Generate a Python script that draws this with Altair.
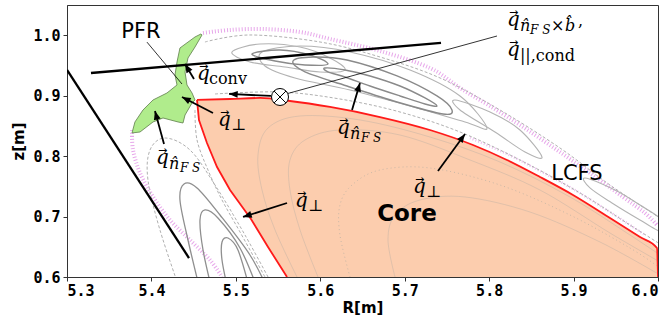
import math
import altair as alt
import pandas as pd

# ---------------- axes ----------------
R_DOMAIN = [5.3, 6.0]
Z_DOMAIN = [0.6, 1.05]
R_TICKS = [5.3, 5.4, 5.5, 5.6, 5.7, 5.8, 5.9, 6.0]
Z_TICKS = [0.6, 0.7, 0.8, 0.9, 1.0]
W, H = 591, 272

# ---------------- geometry (R [m], z [m]) ----------------
lcfs_left = [(5.5606, 0.6), (5.5381, 0.6496), (5.5179, 0.6960), (5.5085, 0.7142),
             (5.4931, 0.7439), (5.4777, 0.7820), (5.4658, 0.8217), (5.4563, 0.8598),
             (5.4540, 0.8929)]
lcfs_top = [(5.4540, 0.8929), (5.4931, 0.8945), (5.5286, 0.8962), (5.5641, 0.8912),
            (5.6115, 0.8813), (5.6707, 0.8647), (5.7299, 0.8432), (5.7809, 0.8184),
            (5.8211, 0.7936), (5.8602, 0.7655), (5.8993, 0.7357), (5.9431, 0.6976),
            (5.9787, 0.6662), (5.9988, 0.6480), (6.0, 0.6)]

pfr = [(5.4587, 1.0021), (5.4516, 0.9971), (5.4338, 0.9789), (5.4303, 0.9557),
       (5.4279, 0.9342), (5.4303, 0.9177), (5.4184, 0.9044), (5.4019, 0.8929),
       (5.3900, 0.8763), (5.3805, 0.8565), (5.3770, 0.8383), (5.3865, 0.8399),
       (5.4019, 0.8565), (5.4137, 0.8631), (5.4315, 0.8565), (5.4374, 0.8548),
       (5.4398, 0.8680), (5.4481, 0.8879), (5.4516, 0.8929), (5.4481, 0.9044),
       (5.4421, 0.9177), (5.4398, 0.9392), (5.4433, 0.9623), (5.4516, 0.9805),
       (5.4599, 1.0004)]

wall_upper = [(5.3284, 0.9375), (5.7430, 0.9872)]
wall_lower = [(5.3, 0.9425), (5.4445, 0.6314)]
pfr_pointer = [(5.3947, 0.9886), (5.4362, 0.9193)]
otimes_pointer = [(5.5594, 0.9028), (5.8093, 0.9987)]
otimes_at = [(5.5523, 0.8978)]

islands_dark = {
    "A": [(5.6056, 0.9458), (5.6293, 0.9425), (5.6589, 0.9326), (5.6944, 0.9160),
          (5.7240, 0.8962), (5.7382, 0.8829), (5.7240, 0.8862), (5.6944, 0.8995),
          (5.6589, 0.9160), (5.6293, 0.9309), (5.6091, 0.9392)],
    "B": [(5.5677, 0.9574), (5.5914, 0.9640), (5.6316, 0.9590), (5.6909, 0.9326),
          (5.7382, 0.8995), (5.7560, 0.8763), (5.7453, 0.8697), (5.6909, 0.8895),
          (5.6316, 0.9160), (5.5819, 0.9392)],
    "D2": [(5.5191, 0.9690), (5.5523, 0.9756), (5.5878, 0.9673), (5.6091, 0.9524),
           (5.5819, 0.9508), (5.5464, 0.9574)],
}
islands_light = {
    "C": [(5.5310, 0.9723), (5.5760, 0.9822), (5.6352, 0.9723), (5.7063, 0.9425),
          (5.7655, 0.8995), (5.7974, 0.8465), (5.7714, 0.8565), (5.7063, 0.8829),
          (5.6352, 0.9094), (5.5700, 0.9293), (5.5345, 0.9491)],
    "D": [(5.4954, 0.9723), (5.5286, 0.9855), (5.5760, 0.9805), (5.6115, 0.9623),
          (5.6293, 0.9425), (5.5997, 0.9392), (5.5582, 0.9475), (5.5167, 0.9557)],
    "E": [(5.7596, 0.8929), (5.8010, 0.8730), (5.8365, 0.8432), (5.8626, 0.7985),
          (5.8425, 0.8068), (5.8069, 0.8399), (5.7655, 0.8763)],
    "F": [(5.9135, 0.7638), (5.9490, 0.7439), (5.9787, 0.7191), (6.0047, 0.6943),
          (6.0047, 0.6745), (5.9787, 0.6943), (5.9455, 0.7224), (5.9194, 0.7473)],
}
lower_chain = {
    "U1": [(5.4575, 0.5785), (5.4433, 0.6612), (5.4338, 0.7274), (5.4386, 0.7539),
           (5.4540, 0.7473), (5.4812, 0.7026), (5.5167, 0.6364), (5.5381, 0.5785)],
    "U2": [(5.4717, 0.5785), (5.4611, 0.6447), (5.4575, 0.6943), (5.4634, 0.7109),
           (5.4788, 0.6976), (5.5049, 0.6480), (5.5262, 0.5785)],
    "U3": [(5.4907, 0.5785), (5.4836, 0.6281), (5.4836, 0.6579), (5.4907, 0.6645),
           (5.5025, 0.6447), (5.5167, 0.5785)],
}
dashed_surfaces = {
    "U0": [(5.4338, 0.5785), (5.4101, 0.6778), (5.3959, 0.7605), (5.3983, 0.8101),
           (5.4161, 0.8300), (5.4457, 0.8101), (5.4753, 0.7522), (5.5108, 0.6695),
           (5.5464, 0.5785)],
    "G1": [(5.4634, 0.9888), (5.5167, 1.0004), (5.5997, 0.9888), (5.6707, 0.9640),
           (5.7418, 0.9293), (5.8128, 0.8763), (5.8839, 0.8134), (5.9431, 0.7522),
           (6.0024, 0.6976)],
    "G2": [(5.4753, 0.9028), (5.5523, 0.9061), (5.6233, 0.8945), (5.6944, 0.8730),
           (5.7655, 0.8399), (5.8365, 0.7936), (5.9076, 0.7390), (5.9668, 0.6860),
           (6.0024, 0.6546)],
    "G4": [(5.4516, 0.8763), (5.4540, 0.8267), (5.4670, 0.7770), (5.4836, 0.7274),
           (5.5049, 0.6745), (5.5345, 0.6)],
}
core_surfaces = {
    "K1": [(5.5724, 0.6), (5.5464, 0.6778), (5.5310, 0.7439), (5.5262, 0.8018),
           (5.5381, 0.8465), (5.5760, 0.8664), (5.6470, 0.8598), (5.7299, 0.8316),
           (5.8128, 0.7903), (5.8957, 0.7324), (5.9668, 0.6695), (6.0024, 0.6364)],
    "K2": [(5.5973, 0.6), (5.5760, 0.6778), (5.5641, 0.7439), (5.5641, 0.7936),
           (5.5819, 0.8267), (5.6233, 0.8432), (5.6944, 0.8349), (5.7773, 0.7936),
           (5.8602, 0.7439), (5.9431, 0.6728), (6.0024, 0.6248)],
    "K4": [(5.6885, 0.6), (5.6802, 0.6612), (5.6885, 0.7026), (5.7181, 0.7274),
           (5.7714, 0.7324), (5.8484, 0.7075), (5.9313, 0.6579), (6.0024, 0.6033)],
}
core_dotted = {
    "K3": [(5.6352, 0.6), (5.6233, 0.6695), (5.6233, 0.7191), (5.6376, 0.7522),
           (5.6707, 0.7770), (5.7299, 0.7803), (5.8128, 0.7522), (5.8957, 0.7026),
           (5.9668, 0.6480), (6.0024, 0.6149)],
}
magenta_bands = {
    "M1": [(5.4611, 1.0037), (5.4931, 1.0087), (5.5321, 1.0103), (5.5760, 1.0054),
           (5.6115, 0.9938), (5.6707, 0.9739), (5.7299, 0.9458), (5.7655, 0.9127),
           (5.8010, 0.8829), (5.8401, 0.8482), (5.8804, 0.8101), (5.9194, 0.7721),
           (5.9585, 0.7324), (5.9846, 0.7059), (5.9988, 0.6860)],
    "M2": [(5.3770, 0.8432), (5.3782, 0.8101), (5.3865, 0.7721), (5.4019, 0.7324),
           (5.4220, 0.6943), (5.4457, 0.6612), (5.4694, 0.6281), (5.4836, 0.6)],
}
magenta_inner = {
    "M3": [(5.7773, 0.8300), (5.8211, 0.8035), (5.8602, 0.7754), (5.8993, 0.7456),
           (5.9431, 0.7075), (5.9846, 0.6695)],
}

# arrows: tail -> tip
arrow_tail = [(5.4504, 0.9276), (5.5416, 0.8995), (5.4729, 0.8713), (5.4149, 0.8201),
              (5.6376, 0.8763), (5.7394, 0.7754), (5.5606, 0.7224)]
arrow_tip = [(5.4398, 0.9524), (5.4919, 0.9028), (5.4362, 0.8978), (5.4042, 0.8746),
             (5.6470, 0.9210), (5.7714, 0.8366), (5.5085, 0.6993)]

# text pieces (text, R, z)
vector_q = [(5.4540, 0.9259), (5.4788, 0.8498), (5.4054, 0.7870), (5.6198, 0.8366),
            (5.5700, 0.7158), (5.7098, 0.7390), (5.8211, 1.0153), (5.8211, 0.9656)]
sub_upright = [("conv", 5.4682, 0.9193), ("⊥", 5.4942, 0.8432), ("⊥", 5.5854, 0.7092),
               ("⊥", 5.7252, 0.7324), ("×", 5.8732, 1.0070), ("||,cond", 5.8365, 0.9574),
               (",", 5.9052, 1.0153)]
sub_italic = [("n̂", 5.4208, 0.7787), ("n̂", 5.6352, 0.8283), ("n̂", 5.8365, 1.0070),
              ("b̂", 5.8898, 1.0070)]
sub_sub = [("F S", 5.4338, 0.7737), ("F S", 5.6482, 0.8234), ("F S", 5.8484, 1.0020)]
plain_labels = [("PFR", 5.3876, 1.0054), ("LCFS", 5.9040, 0.7704)]
bold_labels = [("Core", 5.7027, 0.7042)]

# ---------------- helpers ----------------
axis_common = dict(grid=False, labelFont="DejaVu Sans Mono", labelFontWeight="bold",
                   labelFontSize=15, labelColor="black", tickColor="#333",
                   domainColor="#333", tickSize=4, titleFont="DejaVu Sans",
                   titleFontWeight="bold", titleFontSize=15, titleColor="black")
X = alt.X("R:Q", scale=alt.Scale(domain=R_DOMAIN, nice=False, zero=False),
          axis=alt.Axis(values=R_TICKS, format=".1f", title="R[m]", labelPadding=2,
                        titlePadding=2, **axis_common))
Y = alt.Y("z:Q", scale=alt.Scale(domain=Z_DOMAIN, nice=False, zero=False),
          axis=alt.Axis(values=Z_TICKS, format=".1f", title="z[m]", labelPadding=3,
                        titlePadding=6, **axis_common))


def frame(curves):
    rows = []
    for name, pts in curves.items():
        for i, (r, z) in enumerate(pts):
            rows.append({"curve": name, "i": i, "R": r, "z": z})
    return pd.DataFrame(rows)


def paths(curves, **mark):
    return alt.Chart(frame(curves)).mark_line(clip=True, **mark).encode(
        x=X, y=Y, order="i:Q", detail="curve:N")


def texts(items, **mark):
    df = pd.DataFrame(items, columns=["t", "R", "z"])
    return alt.Chart(df).mark_text(**mark).encode(x=X, y=Y, text="t:N")


core_poly = lcfs_left + lcfs_top[1:]
layers = []
layers.append(paths({"core": core_poly}, fill="#fccdae", strokeOpacity=0))
layers.append(paths(core_surfaces, color="#b7aca3", strokeWidth=0.8, opacity=0.5,
                    interpolate="cardinal"))
layers.append(paths(core_dotted, color="#a9a9a0", strokeWidth=1.0, opacity=0.6,
                    strokeDash=[1, 3], interpolate="cardinal"))
layers.append(paths(magenta_bands, color="#d35fd8", strokeWidth=4, opacity=0.55,
                    strokeDash=[1, 2], interpolate="cardinal"))
layers.append(paths(magenta_inner, color="#d35fd8", strokeWidth=2.5, opacity=0.4,
                    strokeDash=[1, 2], interpolate="cardinal"))
layers.append(paths(dashed_surfaces, color="#b0b0b0", strokeWidth=1, strokeDash=[3, 2],
                    interpolate="cardinal"))
layers.append(paths(islands_light, color="#b3b3b3", strokeWidth=1.1,
                    interpolate="cardinal-closed"))
layers.append(paths(islands_dark, color="#8a8a8a", strokeWidth=1.4,
                    interpolate="cardinal-closed"))
layers.append(paths(lower_chain, color="#8f8f8f", strokeWidth=1.3, interpolate="cardinal"))
layers.append(paths({"pfr": pfr + pfr[:1]}, fill="#b0ec8c", color="#5e7d4a",
                    strokeWidth=0.8))
layers.append(paths({"left": lcfs_left}, color="#ff1a1a", strokeWidth=1.8))
layers.append(paths({"top": lcfs_top}, color="#ff1a1a", strokeWidth=1.8,
                    interpolate="monotone"))
layers.append(paths({"w1": wall_upper, "w2": wall_lower}, color="black", strokeWidth=2.3))
layers.append(paths({"p1": pfr_pointer, "p2": otimes_pointer}, color="black",
                    strokeWidth=0.8))

# arrows
PXR = W / (R_DOMAIN[1] - R_DOMAIN[0])
PXZ = H / (Z_DOMAIN[1] - Z_DOMAIN[0])
arr = pd.DataFrame({
    "R": [t[0] for t in arrow_tail], "z": [t[1] for t in arrow_tail],
    "R2": [t[0] for t in arrow_tip], "z2": [t[1] for t in arrow_tip],
})
arr["ang"] = [math.degrees(math.atan2((b[0] - a[0]) * PXR, (b[1] - a[1]) * PXZ)) % 360
              for a, b in zip(arrow_tail, arrow_tip)]
layers.append(alt.Chart(arr).mark_rule(color="black", strokeWidth=1.8).encode(
    x=X, y=Y, x2="R2:Q", y2="z2:Q"))
heads = arr[["R2", "z2", "ang"]].rename(columns={"R2": "R", "z2": "z"})
layers.append(alt.Chart(heads).mark_point(
    shape="M0,0L0.4,1L-0.4,1Z", filled=True, color="black", opacity=1, size=300).encode(
    x=X, y=Y, angle=alt.Angle("ang:Q", scale=None)))

# otimes
ot = pd.DataFrame(otimes_at, columns=["R", "z"])
layers.append(alt.Chart(ot).mark_point(shape="circle", size=289, fill="white",
                                       filled=False, stroke="black", strokeWidth=1,
                                       opacity=1).encode(x=X, y=Y))
layers.append(alt.Chart(ot).mark_point(shape="M-0.7,-0.7L0.7,0.7M-0.7,0.7L0.7,-0.7",
                                       size=289, stroke="black", strokeWidth=1,
                                       opacity=1).encode(x=X, y=Y))

# math labels
qdf = [("q", r, z) for r, z in vector_q]
layers.append(texts(qdf, font="DejaVu Serif", fontStyle="italic", fontSize=20,
                    align="left", baseline="alphabetic", color="black"))
layers.append(texts([("→", r, z) for r, z in vector_q], font="DejaVu Sans", fontSize=11,
                    align="left", baseline="alphabetic", dx=2, dy=-10, color="black"))
layers.append(texts(sub_upright, font="DejaVu Serif", fontSize=16, align="left",
                    baseline="alphabetic", color="black"))
layers.append(texts(sub_italic, font="DejaVu Serif", fontStyle="italic", fontSize=16,
                    align="left", baseline="alphabetic", color="black"))
layers.append(texts(sub_sub, font="DejaVu Serif", fontStyle="italic", fontSize=12,
                    align="left", baseline="alphabetic", color="black"))
layers.append(texts(plain_labels, font="DejaVu Sans", fontSize=21, align="center",
                    baseline="middle", color="black"))
layers.append(texts(bold_labels, font="DejaVu Sans", fontWeight="bold", fontSize=23,
                    align="center", baseline="middle", color="black"))

chart = alt.layer(*layers).properties(
    width=W, height=H, autosize="none",
    padding={"left": 67, "top": 5, "right": 14, "bottom": 46},
).configure_view(stroke="#333", strokeWidth=1)

chart.save("out.html", embed_options={"renderer": "svg", "actions": False})
